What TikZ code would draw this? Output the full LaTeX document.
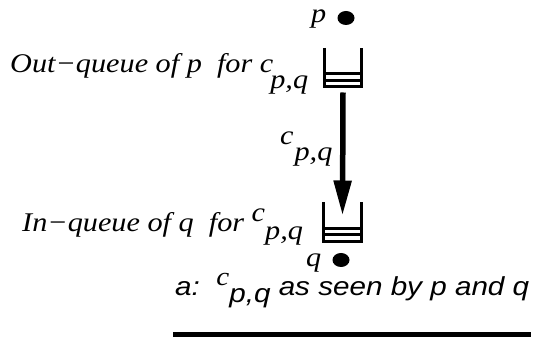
\documentclass[tikz,border=0pt]{standalone}
\usepackage{fontspec}
\setmainfont{Liberation Serif}
\setsansfont{Liberation Sans}
\newfontfamily\labelfont[FakeStretch=1.12]{Liberation Serif}
\newfontfamily\capfont[FakeStretch=1.14]{Liberation Sans}
\usetikzlibrary{arrows.meta,shapes.geometric}

\tikzset{
  wall/.style={line width=3pt},
  qbox/.style={minimum width=37.5pt, minimum height=39pt, inner sep=0pt, outer sep=0pt},
  site/.style={ellipse, fill=black, minimum width=17pt, minimum height=14pt, inner sep=0pt},
  lbl/.style={font=\fontsize{27}{31}\labelfont\itshape, inner sep=0pt, anchor=base west},
  caption/.style={font=\fontsize{26}{30}\capfont\itshape, inner sep=0pt, anchor=base west},
  flow/.style={->, line width=5.5pt}
}

\begin{document}
\begin{tikzpicture}[x=1pt, y=-1pt, >={Triangle[length=35pt,width=17pt]}]

    \useasboundingbox (0,0) rectangle (533,339);

    % ------------------------------------------------------------------
    % 1. Processes p and q
    % ------------------------------------------------------------------
    \node[site] (pdot) at (346,18) {};
    \node[lbl] (plbl) at (311,23) {p};
    \node[site] (qdot) at (341,260) {};
    \node[lbl] (qlbl) at (306,267) {q};

    % ------------------------------------------------------------------
    % 2. Out-queue of p (top) and in-queue of q (bottom)
    % ------------------------------------------------------------------
    \node[qbox] (outq) at (343,67.5) {};
    \node[qbox] (inq) at (342.5,222) {};
    \foreach \qq in {outq,inq} {
        \draw[wall] (\qq.north west) -- (\qq.south west)
            -- (\qq.south east) -- (\qq.north east);
        \draw[wall] ([yshift=6.5pt]\qq.south west) -- ([yshift=6.5pt]\qq.south east);
        \draw[wall] ([yshift=13pt]\qq.south west) -- ([yshift=13pt]\qq.south east);
    }

    \node[lbl] (outlbl) at (10,73)
        {Out−queue of p\ \ for c\kern-3pt\raisebox{-16pt}{p,q}};
    \node[lbl] (inlbl) at (22,232)
        {In−queue of q\ \ for \raisebox{10pt}{c}\raisebox{-8pt}{p,q}};

    % ------------------------------------------------------------------
    % 3. Channel c_{p,q}
    % ------------------------------------------------------------------
    \draw[flow] ([yshift=-5.5pt]outq.south) -- ([yshift=-13pt]inq.north);
    \node[lbl] (chanlbl) at (280,145) {c\kern1pt\raisebox{-16pt}{p,q}};

    % ------------------------------------------------------------------
    % 4. Caption with its bar
    % ------------------------------------------------------------------
    \node[caption] (cap) at (175,295)
        {a:\ \ {\labelfont\raisebox{10pt}{c}}\raisebox{-7pt}{p,q} as seen by p and q};
    \draw[line width=5pt] (173,334.5) -- (531,334.5);

\end{tikzpicture}
\end{document}
